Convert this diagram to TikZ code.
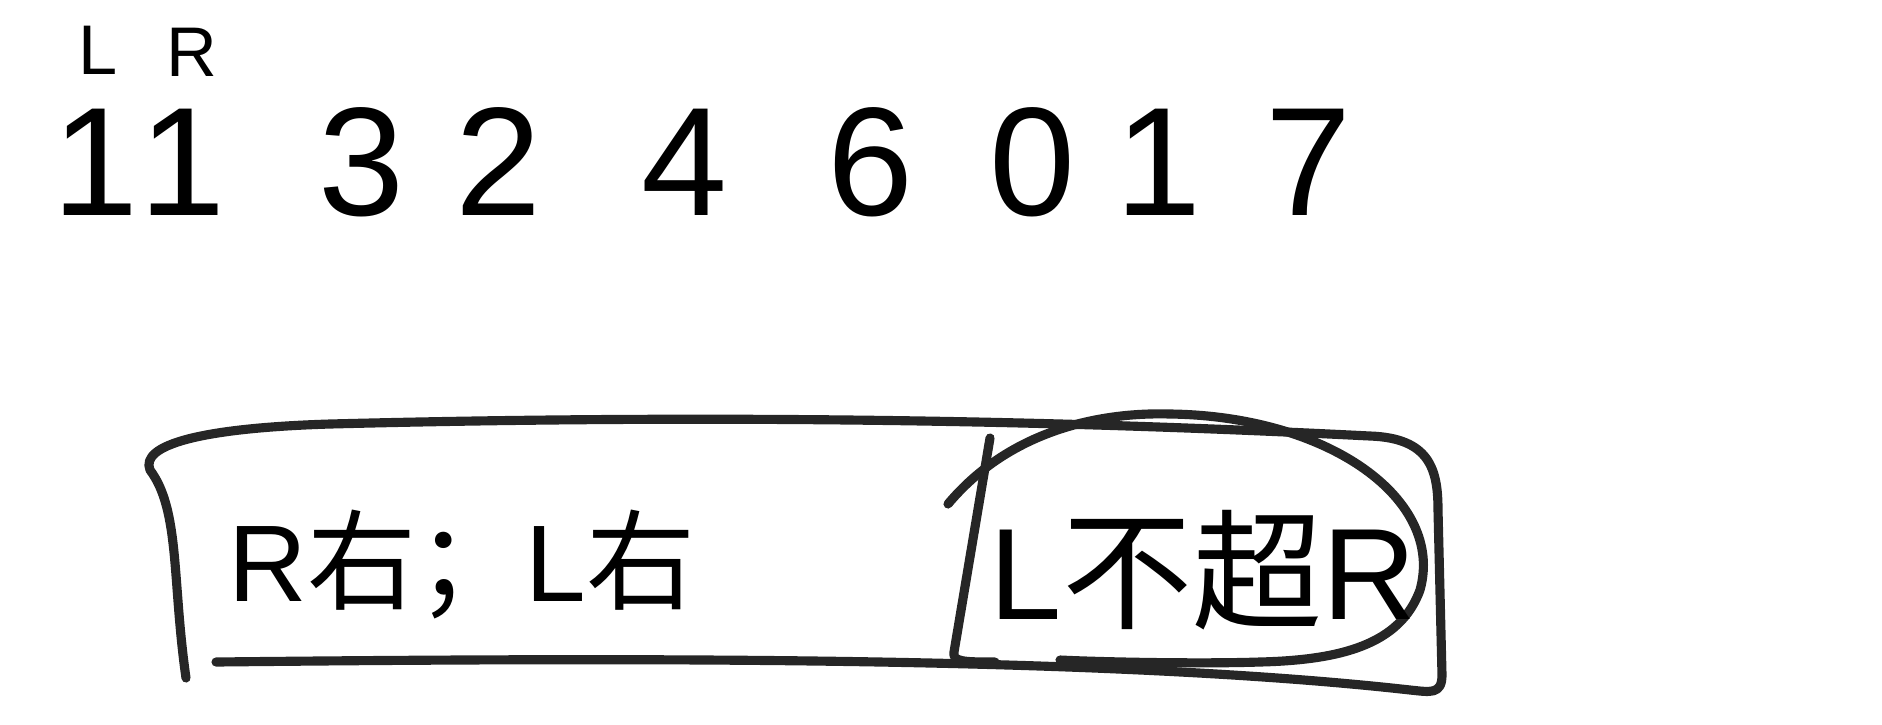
\documentclass[tikz,border=0pt]{standalone}
\usepackage{fontspec}
\setmainfont{Liberation Sans}
\newfontfamily\cjk{Noto Sans CJK SC}
\usetikzlibrary{positioning}

\begin{document}
\begin{tikzpicture}[digit/.style={font=\fontsize{44}{48}\selectfont,inner sep=0pt},
  ptr/.style={font=\fontsize{20}{22}\selectfont,inner sep=0pt},
  note/.style={inner sep=0pt},
  pen/.style={line width=2.6pt,line cap=round,line join=round,black!85}]
\useasboundingbox (0,0) rectangle (18.82,-7.24);
\foreach \i/\x/\d in {1/0.96/1,2/1.82/1,3/3.62/3,4/4.98/2,5/6.84/4,6/8.70/6,7/10.32/0,8/11.58/1,9/13.08/7} {
  \node[digit] (n\i) at (\x,-1.62) {\d};
}
\node[ptr] (pL) at (0.98,-0.50) {L};
\node[ptr] (pR) at (1.92,-0.52) {R};
\draw[pen] (1.86,-6.78) .. controls (1.72,-5.80) and (1.80,-5.10) .. (1.50,-4.70)
  .. controls (1.40,-4.45) and (2.00,-4.28) .. (3.30,-4.24)
  .. controls (8.00,-4.12) and (11.50,-4.25) .. (13.70,-4.36)
  .. controls (14.30,-4.38) and (14.38,-4.70) .. (14.38,-5.10)
  -- (14.42,-6.75) .. controls (14.42,-6.95) and (14.30,-6.92) .. (14.10,-6.90)
  .. controls (11.00,-6.55) and (6.00,-6.58) .. (2.16,-6.62);
\draw[pen] (9.90,-4.38) -- (9.54,-6.52) .. controls (9.52,-6.62) and (9.65,-6.62) .. (9.95,-6.62);
\draw[pen] (9.48,-5.04) .. controls (10.10,-4.30) and (11.00,-4.12) .. (11.70,-4.14)
  .. controls (13.30,-4.16) and (14.45,-5.00) .. (14.20,-5.90)
  .. controls (14.00,-6.45) and (13.40,-6.60) .. (12.60,-6.62)
  .. controls (12.00,-6.64) and (11.00,-6.62) .. (10.60,-6.60);
\node[note,font=\fontsize{31}{34}\selectfont] (left) at (4.62,-5.64) {R{\cjk 右；}L{\cjk 右}};
\node[note,font=\fontsize{37}{40}\selectfont] (right) at (12.03,-5.70) {L{\cjk 不超}R};
\end{tikzpicture}
\end{document}
